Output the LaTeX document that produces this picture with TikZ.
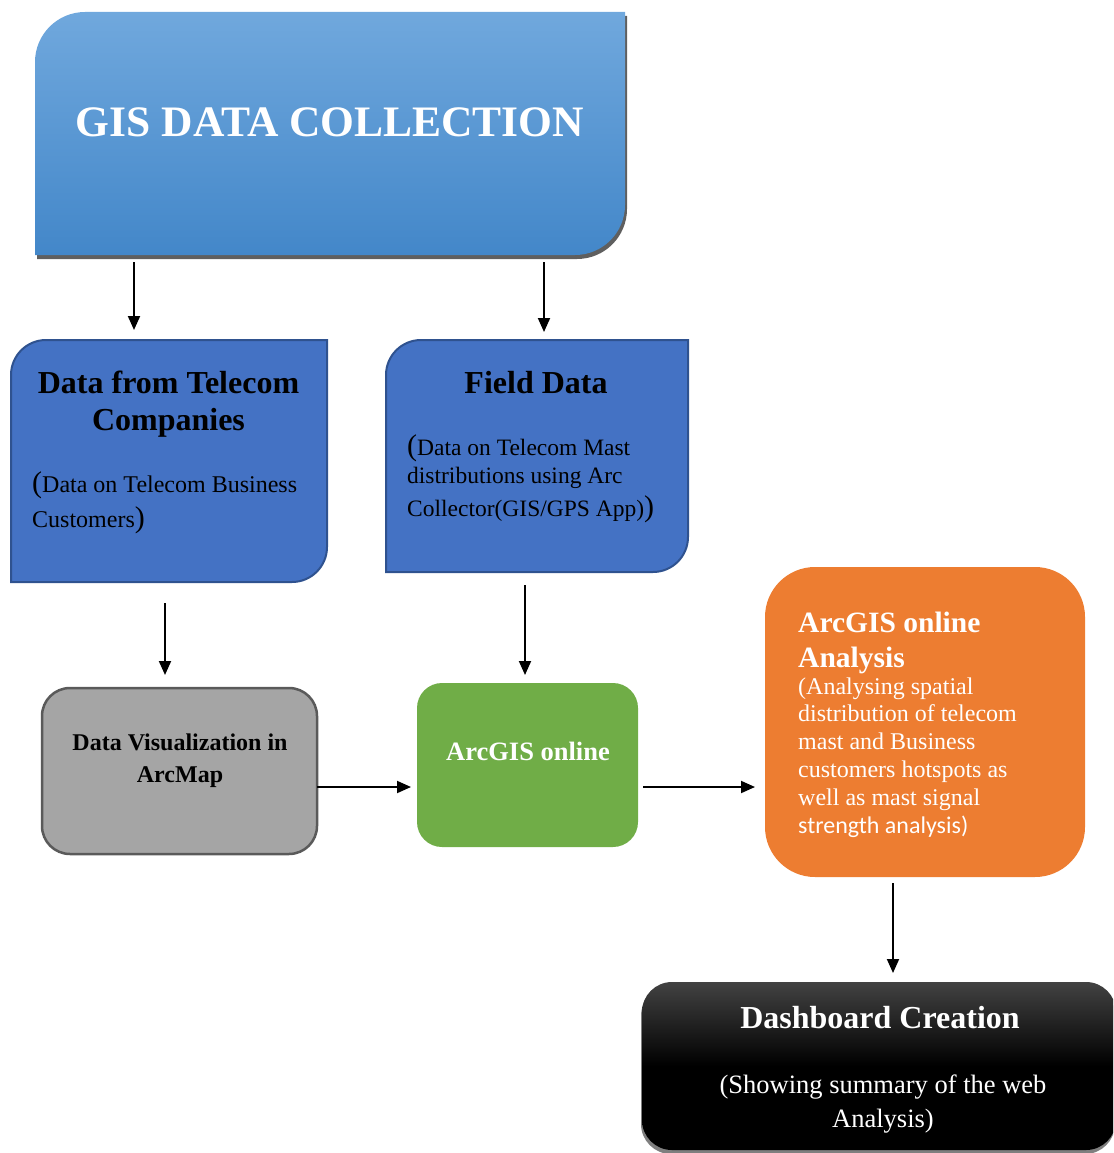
\documentclass[tikz,border=0pt]{standalone}
\usepackage{fontspec}
\setmainfont{Liberation Serif}
\newfontfamily\calibri{Carlito}
\usetikzlibrary{arrows.meta,positioning,calc}
\definecolor{GisTop}{HTML}{70A8DD}
\definecolor{GisBottom}{HTML}{4387C9}
\definecolor{GisShadow}{HTML}{5F5F5F}
\definecolor{SourceBlue}{HTML}{4472C4}
\definecolor{SourceBorder}{HTML}{2F528F}
\definecolor{VizGray}{HTML}{A5A5A5}
\definecolor{VizBorder}{HTML}{5A5A5A}
\definecolor{OnlineGreen}{HTML}{70AD47}
\definecolor{AnalysisOrange}{HTML}{ED7D31}
\definecolor{DashTop}{HTML}{424242}
\definecolor{DashShadow}{HTML}{7F7F7F}
\newcommand{\openpar}{{\fontsize{30}{30}\selectfont(}}
\newcommand{\closepar}{{\fontsize{30}{30}\selectfont)}}
\newcommand{\leafpath}[2]{(#1.north) [sharp corners] -- (#1.north east) -- (#1.east)
 [rounded corners=#2] -- (#1.south east) -- (#1.south) [sharp corners] -- (#1.south west)
 -- (#1.west) [rounded corners=#2] -- (#1.north west) -- cycle}
\tikzset{arr/.style={-{Triangle[length=14pt,width=12pt]},line width=1.9pt},
 boxframe/.style={inner sep=0pt,outer sep=0pt},
 sourcebox/.style={fill=SourceBlue,draw=SourceBorder,line width=2pt},
 heading/.style={anchor=base,align=center,inner sep=0pt,font=\bfseries\fontsize{32}{37}\selectfont},
 note/.style={anchor=base west,align=left,inner sep=0pt,font=\fontsize{24}{35}\selectfont}}
\begin{document}
\begin{tikzpicture}[x=1pt,y=-1pt]
\useasboundingbox (0,0) rectangle (1113,1153);
\clip (0,0) rectangle (1113,1153);
\node[boxframe,minimum width=590,minimum height=243] (gis) at (330,133.5) {};
\node[boxframe,minimum width=316,minimum height=242] (tel) at (169,461) {};
\node[boxframe,minimum width=302,minimum height=232] (field) at (537,456) {};
\begin{scope}[transform canvas={shift={(2pt,-4pt)}}]
\fill[GisShadow] \leafpath{gis}{50pt};
\end{scope}
\shade[top color=GisTop,bottom color=GisBottom] \leafpath{gis}{50pt};
\filldraw[sourcebox] \leafpath{tel}{35pt};
\filldraw[sourcebox] \leafpath{field}{35pt};
\node[boxframe,minimum width=275,minimum height=166,fill=VizGray,draw=VizBorder,
 line width=2.5pt,rounded corners=28pt] (viz) at (179.5,771) {};
\node[boxframe,minimum width=221,minimum height=164,fill=OnlineGreen,
 rounded corners=25pt] (online) at (527.5,765) {};
\node[boxframe,minimum width=320,minimum height=310,fill=AnalysisOrange,
 rounded corners=50pt] (analysis) at (925,722) {};
\node[boxframe,minimum width=474,minimum height=168] (dash) at (879,1066) {};
\begin{scope}[transform canvas={shift={(-1pt,-4pt)}}]
\fill[DashShadow,rounded corners=30pt] (dash.north west) rectangle (dash.south east);
\end{scope}
\shade[top color=DashTop,bottom color=black,middle color=black,rounded corners=30pt]
 (dash.north west) rectangle (dash.south east);

\node[heading,white,font=\bfseries\fontsize{43.5}{48}\selectfont] (gisT) at (330,136) {GIS DATA COLLECTION};
\node[heading] (telT) at (168.5,430) {Data from Telecom\\Companies};
\node[note] (telB) at (32,527) {\openpar Data on Telecom Business\\Customers\closepar};
\node[heading] (fieldT) at (536,393) {Field Data};
\node[note,font=\fontsize{23.5}{28}\selectfont] (fieldB) at (407,516)
 {\openpar Data on Telecom Mast\\distributions using Arc\\[5pt]Collector(GIS/GPS App)\closepar};
\node[heading,font=\bfseries\fontsize{24}{32}\selectfont] (vizT) at (180,782) {Data Visualization in\\ArcMap};
\node[heading,white,font=\bfseries\fontsize{26.5}{30}\selectfont] (onlineT) at (528,760) {ArcGIS online};
\node[heading,anchor=base west,align=left,white,font=\bfseries\fontsize{29.5}{35}\selectfont]
 (analysisT) at (798,667) {ArcGIS online\\Analysis};
\node[note,white,font=\fontsize{24}{27.8}\selectfont] (analysisB) at (798,833)
 {(Analysing spatial\\distribution of telecom\\mast and Business\\customers hotspots as\\well as mast signal\\{\calibri strength analysis)}};
\node[heading,white] (dashT) at (880,1028) {Dashboard Creation};
\node[heading,white,font=\fontsize{26.5}{34}\selectfont] (dashB) at (883,1127) {(Showing summary of the web\\Analysis)};

\draw[arr,shorten <=7pt,shorten >=10pt] ([xshift=-35pt]tel.north |- gis.south) -- ([xshift=-35pt]tel.north);
\draw[arr,shorten <=7pt,shorten >=8pt] ([xshift=7pt]field.north |- gis.south) -- ([xshift=7pt]field.north);
\draw[arr,shorten <=21pt,shorten >=13pt] ([xshift=-4pt]tel.south) -- ([xshift=-4pt]tel.south |- viz.north);
\draw[arr,shorten <=13pt,shorten >=8pt] ([xshift=-2.5pt]online.north |- field.south) -- ([xshift=-2.5pt]online.north);
\draw[arr,shorten >=6pt] ([yshift=-16pt]viz.east) -- ([yshift=-16pt]viz.east -| online.west);
\draw[arr,shorten <=5pt,shorten >=10pt] ([yshift=-22pt]online.east) -- ([yshift=-22pt]online.east -| analysis.west);
\draw[arr,shorten <=6pt,shorten >=9pt] ([xshift=14pt]dash.north |- analysis.south) -- ([xshift=14pt]dash.north);
\end{tikzpicture}
\end{document}
